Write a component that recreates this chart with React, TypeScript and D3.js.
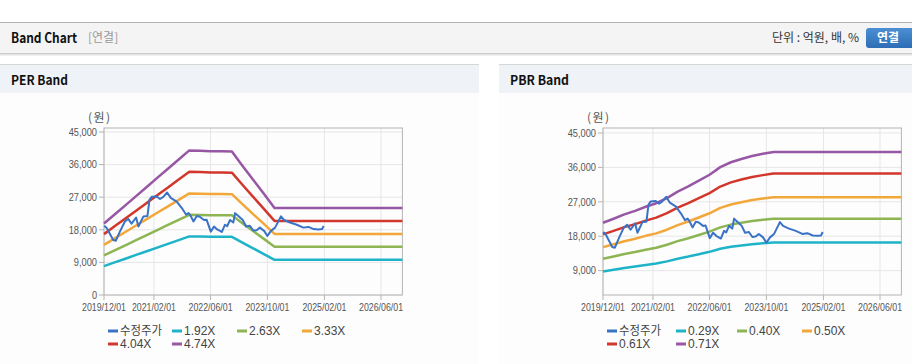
import React from 'react';
import * as d3 from 'd3';

// ---------- data ----------
const priceDates = ['2019-12-03','2019-12-24','2020-02-18','2020-03-12','2020-04-15','2020-05-28','2020-06-25','2020-07-24','2020-09-01','2020-09-21','2020-11-03','2020-12-07','2020-12-25','2021-01-13','2021-02-25','2021-03-25','2021-04-22','2021-05-25','2021-06-25','2021-08-15','2021-09-28','2021-11-03','2021-11-25','2021-12-13','2022-01-06','2022-02-03','2022-03-01','2022-04-06','2022-04-28','2022-06-03','2022-07-01','2022-07-28','2022-09-06','2022-10-03','2022-10-22','2022-11-15','2022-12-13','2022-12-28','2023-01-25','2023-03-04','2023-04-01','2023-05-04','2023-06-03','2023-07-01','2023-07-28','2023-09-03','2023-10-01','2023-11-01','2023-12-06','2024-01-25','2024-02-21','2024-04-12','2024-06-09','2024-08-04','2024-09-16','2024-11-01','2024-12-13','2025-01-12','2025-01-25'];
const priceValues = [19100,18500,15200,15000,17500,20300,21000,19700,21400,18900,21700,21800,26300,27100,27200,26500,27100,28300,26800,25800,24000,22200,22600,21800,20300,21800,21600,20700,20800,17500,18900,18100,17400,19400,19000,20700,20000,22600,21800,20700,18900,19100,17800,17900,18600,17700,16300,17700,18600,21700,20700,20000,19400,18600,18800,18200,18100,18200,19100];

const baseDates = ['2019-12-01','2020-03-01','2020-06-01','2020-09-01','2020-12-01','2021-03-01','2021-06-01','2021-09-01','2021-12-01','2022-03-01','2022-06-01','2022-09-01','2022-12-01','2023-03-01','2023-06-01','2023-09-01','2023-12-01','2026-12-01'];
const epsValues = [4160,4690,5220,5760,6290,6820,7350,7890,8420,8400,8370,8370,8360,7530,6710,5890,5060,5060];
const bpsValues = [30300,31800,33400,34700,36200,37500,39400,41800,43700,45800,48000,50800,52600,53800,54900,55700,56400,56400];

const perMultiples = [1.92, 2.63, 3.33, 4.04, 4.74];
const perLabels = ['1.92X', '2.63X', '3.33X', '4.04X', '4.74X'];
const pbrMultiples = [0.29, 0.40, 0.50, 0.61, 0.71];
const pbrLabels = ['0.29X', '0.40X', '0.50X', '0.61X', '0.71X'];
const priceLabel = '수정주가';

const xTickDates = ['2019-12-01', '2021-02-01', '2022-06-01', '2023-10-01', '2025-02-01', '2026-06-01'];
const xTickLabels = ['2019/12/01', '2021/02/01', '2022/06/01', '2023/10/01', '2025/02/01', '2026/06/01'];
const perYTicks = [0, 9000, 18000, 27000, 36000, 45000];
const pbrYTicks = [9000, 18000, 27000, 36000, 45000];

const bandColors = ['#1fb3c8', '#8db553', '#f2a73b', '#d2372c', '#9857a5'];
const priceColor = '#3a73c5';

const parse = d3.timeParse('%Y-%m-%d');
const AXIS_FONT = '"Liberation Sans", Arial, sans-serif';
const KR_FONT = '"Noto Sans CJK KR", "Noto Sans", sans-serif';

const labelWidth = (s: string) => {
  let w = 0;
  for (const ch of s) w += ch === ',' ? 2.8 : 5.1;
  return w;
};

type PanelProps = {
  x0: number;
  x1: number;
  yDomain: [number, number];
  yTicks: number[];
  baseValues: number[];
  multiples: number[];
  labels: string[];
  legendOffsets: number[];
};

function BandPanel({ x0, x1, yDomain, yTicks, baseValues, multiples, labels, legendOffsets }: PanelProps) {
  const y0 = 128;
  const y1 = 295;
  const x = d3.scaleTime().domain([parse('2019-12-01')!, parse('2026-12-01')!]).range([x0, x1]);
  const y = d3.scaleLinear().domain(yDomain).range([y1, y0]);
  const fmt = d3.format(',');

  const bandLine = (m: number) =>
    d3.line<number>()
      .x((_, i) => x(parse(baseDates[i])!))
      .y((v) => y(v * m))(baseValues) || '';
  const priceLine = d3.line<number>()
    .x((_, i) => x(parse(priceDates[i])!))
    .y((v) => y(v))(priceValues) || '';

  const legendItems = [{ label: priceLabel, color: priceColor }].concat(
    labels.map((l, i) => ({ label: l, color: bandColors[i] }))
  );

  return (
    <g>
      {yTicks.map((t) => (
        <line key={'gy' + t} x1={x0} x2={x1} y1={y(t)} y2={y(t)} stroke="#e6e6e6" strokeWidth={1} />
      ))}
      {xTickDates.map((d) => (
        <line key={'gx' + d} x1={x(parse(d)!)} x2={x(parse(d)!)} y1={y0} y2={y1} stroke="#e6e6e6" strokeWidth={1} />
      ))}
      <rect x={x0} y={y0} width={x1 - x0} height={y1 - y0} fill="none" stroke="#b4b4b4" strokeWidth={1} />
      {yTicks.map((t) => (
        <g key={'yt' + t}>
          <line x1={x0 - 5} x2={x0} y1={y(t)} y2={y(t)} stroke="#b4b4b4" />
          <text x={x0 - 7} y={y(t)} dy="0.35em" textAnchor="end" fontSize={11} fontFamily={AXIS_FONT} fill="#555" textLength={labelWidth(fmt(t))} lengthAdjust="spacingAndGlyphs">
            {fmt(t)}
          </text>
        </g>
      ))}
      {xTickDates.map((d, i) => (
        <g key={'xt' + d}>
          <line x1={x(parse(d)!)} x2={x(parse(d)!)} y1={y1} y2={y1 + 5} stroke="#b4b4b4" />
          <text x={x(parse(d)!)} y={311} textAnchor="middle" fontSize={11} fontFamily={AXIS_FONT} fill="#555" textLength={44} lengthAdjust="spacingAndGlyphs">
            {xTickLabels[i]}
          </text>
        </g>
      ))}
      <text x={x0 - 5} y={118} dy="0.35em" textAnchor="middle" fontSize={12} fontFamily={KR_FONT} fill="#555" textLength={22} lengthAdjust="spacing">
        (원)
      </text>
      {multiples.map((m, i) => (
        <path key={'b' + i} d={bandLine(m)} fill="none" stroke={bandColors[i]} strokeWidth={2.5} strokeLinejoin="round" />
      ))}
      <path d={priceLine} fill="none" stroke={priceColor} strokeWidth={2} strokeLinejoin="round" />
      {legendItems.map((it, i) => {
        const col = i % 4;
        const row = Math.floor(i / 4);
        const lx = x0 + legendOffsets[col];
        const ly = row === 0 ? 331 : 344;
        return (
          <g key={'lg' + i}>
            <line x1={lx} x2={lx + 10} y1={ly} y2={ly} stroke={it.color} strokeWidth={3} />
            {i === 0 ? (
              <text x={lx + 12} y={ly} dy="0.36em" fontSize={12} fontFamily={KR_FONT} fill="#444" textLength={42} lengthAdjust="spacingAndGlyphs">
                {it.label}
              </text>
            ) : (
              <text x={lx + 12} y={ly} dy="0.36em" fontSize={12} fontFamily={AXIS_FONT} fill="#444">
                {it.label}
              </text>
            )}
          </g>
        );
      })}
    </g>
  );
}

export default function App() {
  return (
    <div style={{ position: 'absolute', left: 0, top: 0 }}>
      <svg width={912} height={364} style={{ display: 'block', background: '#ffffff' }}>
        <defs>
          <linearGradient id="btn" x1="0" y1="0" x2="0" y2="1">
            <stop offset="0" stopColor="#4b8fd3" />
            <stop offset="1" stopColor="#2d6db5" />
          </linearGradient>
        </defs>
        <rect x={0} y={22} width={912} height={1} fill="#b2b2b2" />
        <rect x={0} y={23} width={912} height={30} fill="#f4f4f4" />
        <rect x={0} y={53} width={912} height={1} fill="#cdcdcd" />
        <rect x={0} y={54} width={912} height={1} fill="#e4e4e4" />
        <rect x={0} y={55} width={912} height={1} fill="#f1f1f1" />
        <text x={11} y={38} dy="0.36em" fontSize={14} fontWeight="bold" fontFamily={KR_FONT} fill="#111" textLength={66} lengthAdjust="spacingAndGlyphs">
          Band Chart
        </text>
        <text x={88} y={38} dy="0.36em" fontSize={12} fontFamily={KR_FONT} fill="#999">
          [연결]
        </text>
        <text x={859} y={38} dy="0.36em" textAnchor="end" fontSize={12} fontFamily={KR_FONT} fill="#333">
          단위 : 억원, 배, %
        </text>
        <rect x={866} y={28} width={52} height={20} rx={3} fill="url(#btn)" />
        <text x={888} y={38} dy="0.36em" textAnchor="middle" fontSize={12} fontWeight="bold" fontFamily={KR_FONT} fill="#fff">
          연결
        </text>

        <rect x={0} y={64} width={479} height={1} fill="#d6d6d6" />
        <rect x={0} y={65} width={479} height={28} fill="#eff2f7" />
        <text x={11} y={80} dy="0.36em" fontSize={13} fontWeight="bold" fontFamily={KR_FONT} fill="#111" textLength={57} lengthAdjust="spacingAndGlyphs">
          PER Band
        </text>
        <rect x={499} y={64} width={413} height={1} fill="#d6d6d6" />
        <rect x={499} y={65} width={413} height={28} fill="#eff2f7" />
        <text x={510} y={80} dy="0.36em" fontSize={13} fontWeight="bold" fontFamily={KR_FONT} fill="#111" textLength={59} lengthAdjust="spacingAndGlyphs">
          PBR Band
        </text>
        <rect x={0} y={93} width={479} height={271} fill="#fdfdfd" />
        <rect x={499} y={93} width={413} height={271} fill="#fdfdfd" />

        <BandPanel
          x0={104}
          x1={402.4}
          yDomain={[0, 46100]}
          yTicks={perYTicks}
          baseValues={epsValues}
          multiples={perMultiples}
          labels={perLabels}
          legendOffsets={[4, 68, 133, 198]}
        />
        <BandPanel
          x0={603}
          x1={901.4}
          yDomain={[2630, 46300]}
          yTicks={pbrYTicks}
          baseValues={bpsValues}
          multiples={pbrMultiples}
          labels={pbrLabels}
          legendOffsets={[4, 73, 134, 199]}
        />
      </svg>
    </div>
  );
}
